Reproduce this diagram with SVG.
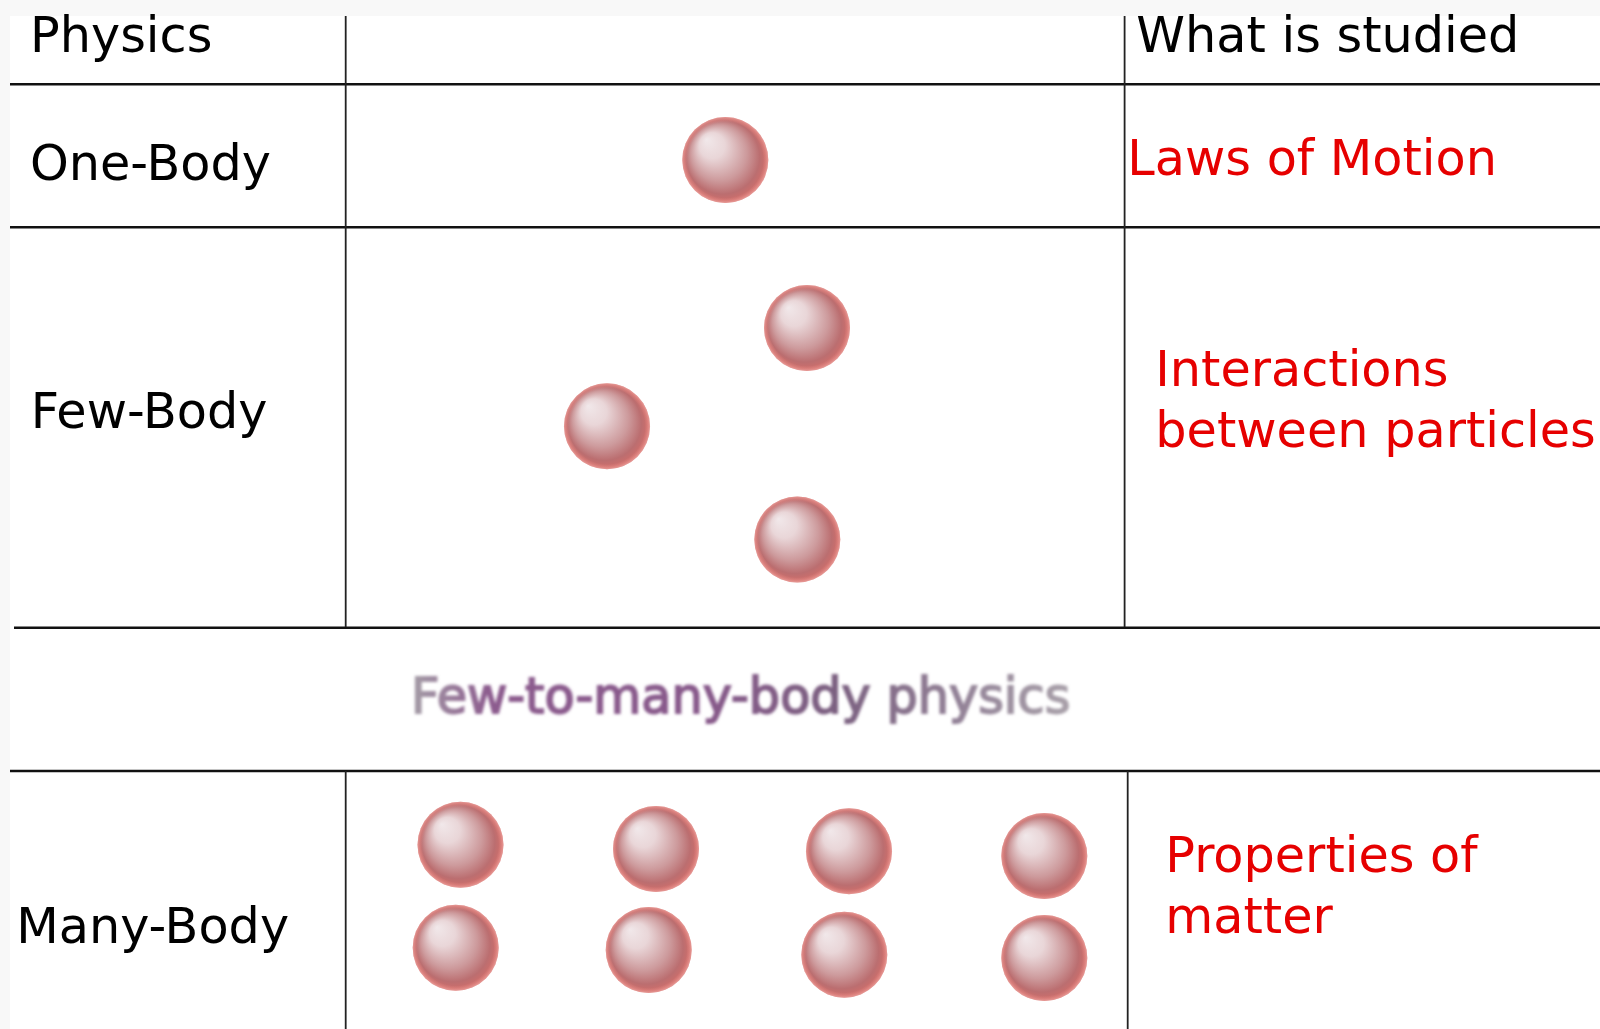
<svg xmlns="http://www.w3.org/2000/svg" width="1600" height="1029" viewBox="0 0 1600 1029">
  <defs>
    <radialGradient id="shade" cx="0.5" cy="0.5" r="0.5" fx="0.28" fy="0.26">
      <stop offset="0" stop-color="#f1e8ea"/>
      <stop offset="0.3" stop-color="#e9d6d8"/>
      <stop offset="0.65" stop-color="#cd9a9c"/>
      <stop offset="0.86" stop-color="#bb6e70"/>
      <stop offset="0.95" stop-color="#cb6e6c"/>
      <stop offset="1" stop-color="#dc7c78"/>
    </radialGradient>
    <radialGradient id="rim" cx="0.5" cy="0.5" r="0.5">
      <stop offset="0" stop-color="#e58c88" stop-opacity="0"/>
      <stop offset="0.88" stop-color="#e58c88" stop-opacity="0"/>
      <stop offset="0.95" stop-color="#e58c88" stop-opacity="0.55"/>
      <stop offset="1" stop-color="#f2b8b5" stop-opacity="0.5"/>
    </radialGradient>
    <linearGradient id="fewmany" x1="411" y1="0" x2="1070" y2="0" gradientUnits="userSpaceOnUse">
      <stop offset="0" stop-color="#a49ca6"/>
      <stop offset="0.12" stop-color="#8c5b8e"/>
      <stop offset="0.45" stop-color="#87598a"/>
      <stop offset="0.65" stop-color="#7b6080"/>
      <stop offset="0.85" stop-color="#958599"/>
      <stop offset="1" stop-color="#a8a0a9"/>
    </linearGradient>
    <filter id="blur" x="-5%" y="-30%" width="110%" height="160%">
      <feGaussianBlur stdDeviation="1.8"/>
    </filter>
    <g id="ball">
      <circle r="43" fill="url(#shade)"/>
      <circle r="43" fill="url(#rim)"/>
    </g>
  </defs>
  <style>
    .lbl { font-family: "DejaVu Sans", "Liberation Sans", sans-serif; font-size: 49.3px; fill: #000; }
    .red { font-family: "DejaVu Sans", "Liberation Sans", sans-serif; font-size: 49.3px; fill: #e60000; }
    .hl { stroke: #111; stroke-width: 2.6; fill: none; }
    .vl { stroke: #222; stroke-width: 1.8; fill: none; }
  </style>

  <rect x="0" y="0" width="1600" height="1029" fill="#f8f8f8"/>
  <rect x="10" y="16" width="1590" height="1013" fill="#ffffff"/>

  <g id="table-lines">
    <line class="hl" x1="10" y1="84.3" x2="1600" y2="84.3"/>
    <line class="hl" x1="10" y1="227.3" x2="1600" y2="227.3"/>
    <line class="hl" x1="14" y1="627.7" x2="1600" y2="627.7"/>
    <line class="hl" x1="10" y1="771" x2="1600" y2="771"/>
    <line class="vl" x1="345.7" y1="16" x2="345.7" y2="627"/>
    <line class="vl" x1="1124.6" y1="16" x2="1124.6" y2="627"/>
    <line class="vl" x1="345.7" y1="771" x2="345.7" y2="1029"/>
    <line class="vl" x1="1127.7" y1="771" x2="1127.7" y2="1029"/>
  </g>

  <g id="header">
    <text class="lbl" x="30" y="51.7">Physics</text>
    <text class="lbl" x="1136.3" y="51.7">What is studied</text>
  </g>

  <g id="row-one-body">
    <text class="lbl" x="30" y="180">One-Body</text>
    <use href="#ball" x="725.3" y="160"/>
    <text class="red" x="1127.3" y="175">Laws of Motion</text>
  </g>

  <g id="row-few-body">
    <text class="lbl" x="30.7" y="428.3">Few-Body</text>
    <use href="#ball" x="807" y="328"/>
    <use href="#ball" x="607" y="426.3"/>
    <use href="#ball" x="797.3" y="539.5"/>
    <text class="red" x="1155.3" y="386">Interactions</text>
    <text class="red" x="1155.3" y="447.3">between particles</text>
  </g>

  <g id="few-to-many">
    <text x="411" y="713" font-family="DejaVu Sans, Liberation Sans, sans-serif" font-size="49.3" fill="url(#fewmany)" stroke="url(#fewmany)" stroke-width="1.8" filter="url(#blur)">Few-to-many-body physics</text>
  </g>

  <g id="row-many-body">
    <text class="lbl" x="16.3" y="942.7">Many-Body</text>
    <use href="#ball" x="460.5" y="844.7"/>
    <use href="#ball" x="656" y="849"/>
    <use href="#ball" x="849" y="851.3"/>
    <use href="#ball" x="1044.3" y="856"/>
    <use href="#ball" x="455.7" y="947.8"/>
    <use href="#ball" x="648.7" y="950"/>
    <use href="#ball" x="844.3" y="954.7"/>
    <use href="#ball" x="1044.3" y="958"/>
    <text class="red" x="1165.3" y="871.7">Properties of</text>
    <text class="red" x="1165.3" y="932.7">matter</text>
  </g>
</svg>
